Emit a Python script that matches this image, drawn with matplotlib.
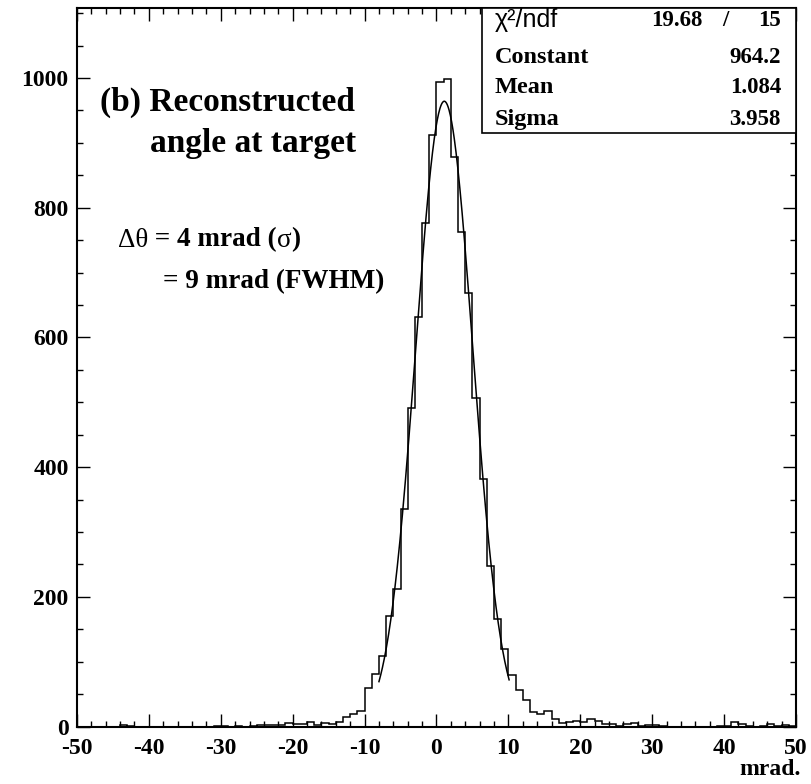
import numpy as np
import matplotlib.pyplot as plt
from matplotlib.ticker import MultipleLocator
from matplotlib.patches import Rectangle

# histogram: 1 mrad bins from -50 to 50
bin_edges = np.arange(-50, 51, 1)
counts = [0, 0, 0, 0, 0, 0, 2, 1, 0, 0,          # -50 .. -41
          0, 0, 0, 0, 0, 0, 0, 0, 0, 1,          # -40 .. -31
          1, 0, 1, 0, 1, 2, 2, 3, 3, 5,          # -30 .. -21
          4, 4, 7, 3, 6, 4, 7, 15, 20, 24,       # -20 .. -11
          59, 81, 109, 171, 212, 335, 491, 631, 777, 912,   # -10 .. -1
          994, 998, 879, 763, 669, 506, 381, 247, 166, 120, # 0 .. 9
          80, 57, 41, 23, 20, 24, 12, 6, 7, 8,   # 10 .. 19
          7, 11, 9, 4, 4, 1, 4, 5, 1, 3,         # 20 .. 29
          3, 1, 0, 0, 0, 0, 0, 0, 0, 1,          # 30 .. 39
          1, 7, 4, 1, 0, 1, 4, 1, 2, 1]          # 40 .. 49

# gaussian fit results
fit_constant = 964.2
fit_mean = 1.084
fit_sigma = 3.958
fit_range = (-8.0, 10.1)
chi2 = 19.68
ndf = 15

plt.rcParams['font.family'] = 'Liberation Serif'
plt.rcParams['font.weight'] = 'bold'
plt.rcParams['axes.unicode_minus'] = False

fig = plt.figure(figsize=(8.11, 7.84), dpi=100)
ax = fig.add_axes([0.0949, 0.0733, 0.8866, 0.9165])

ax.stairs(counts, bin_edges, color='black', lw=1.1)

xf = np.linspace(fit_range[0], fit_range[1], 300)
yf = fit_constant * np.exp(-0.5 * ((xf - fit_mean) / fit_sigma) ** 2)
ax.plot(xf, yf, color='black', lw=1.1)

ax.set_xlim(-50, 50)
ax.set_ylim(0, 1108)
ax.xaxis.set_major_locator(MultipleLocator(10))
ax.xaxis.set_minor_locator(MultipleLocator(2))
ax.yaxis.set_major_locator(MultipleLocator(200))
ax.yaxis.set_minor_locator(MultipleLocator(50))
ax.tick_params(which='both', direction='in', top=True, right=True, width=1.0)
ax.tick_params(which='major', length=9.5, labelsize=17)
ax.tick_params(axis='x', which='major', pad=8)
ax.tick_params(axis='y', which='major', pad=6)
ax.tick_params(which='minor', length=4.5)
for s in ax.spines.values():
    s.set_linewidth(1.5)

fig.text(0.987, 0.018, 'mrad.', ha='right', va='center', fontsize=17)

# stats box
ax.add_patch(Rectangle((0.563, 0.826), 0.437, 0.174, transform=ax.transAxes,
                       facecolor='white', edgecolor='black', lw=1.2, zorder=5))
ax.text(0.581, 0.9830, 'χ²/ndf', transform=ax.transAxes, ha='left', va='center',
        fontsize=18, fontweight='light', family='Liberation Sans', zorder=6)
ax.text(0.870, 0.9830, '%.2f' % chi2, transform=ax.transAxes, ha='right', va='center',
        fontsize=16.5, zorder=6)
ax.text(0.902, 0.9830, '/', transform=ax.transAxes, ha='center', va='center',
        fontsize=16.5, zorder=6)
ax.text(0.979, 0.9830, '%d' % ndf, transform=ax.transAxes, ha='right', va='center',
        fontsize=16.5, zorder=6)
rows = [('Constant', '%.1f' % fit_constant, 0.9318),
        ('Mean', '%.3f' % fit_mean, 0.8887),
        ('Sigma', '%.3f' % fit_sigma, 0.8455)]
for name, val, yy in rows:
    ax.text(0.581, yy, name, transform=ax.transAxes, ha='left', va='center',
            fontsize=17.5, zorder=6)
    ax.text(0.979, yy, val, transform=ax.transAxes, ha='right', va='center',
            fontsize=16.5, zorder=6)

# annotations
ax.text(0.032, 0.868, '(b) Reconstructed', transform=ax.transAxes,
        ha='left', va='center', fontsize=24)
ax.text(0.1015, 0.812, 'angle at target', transform=ax.transAxes,
        ha='left', va='center', fontsize=24)

t = ax.text(0.057, 0.677, 'Δθ', transform=ax.transAxes, ha='left', va='center',
            fontsize=19.5, fontweight='normal')
t = ax.annotate(' = 4 mrad (', xy=(1, 0), xycoords=t, ha='left', va='bottom',
                fontsize=19.5)
t = ax.annotate('σ', xy=(1, 0), xycoords=t, ha='left', va='bottom',
                fontsize=19.5, fontweight='normal')
ax.annotate(')', xy=(1, 0), xycoords=t, ha='left', va='bottom', fontsize=19.5)
ax.text(0.1196, 0.6196, '= 9 mrad (FWHM)', transform=ax.transAxes,
        ha='left', va='center', fontsize=19.5)

fig.savefig('out.png', dpi=100)
